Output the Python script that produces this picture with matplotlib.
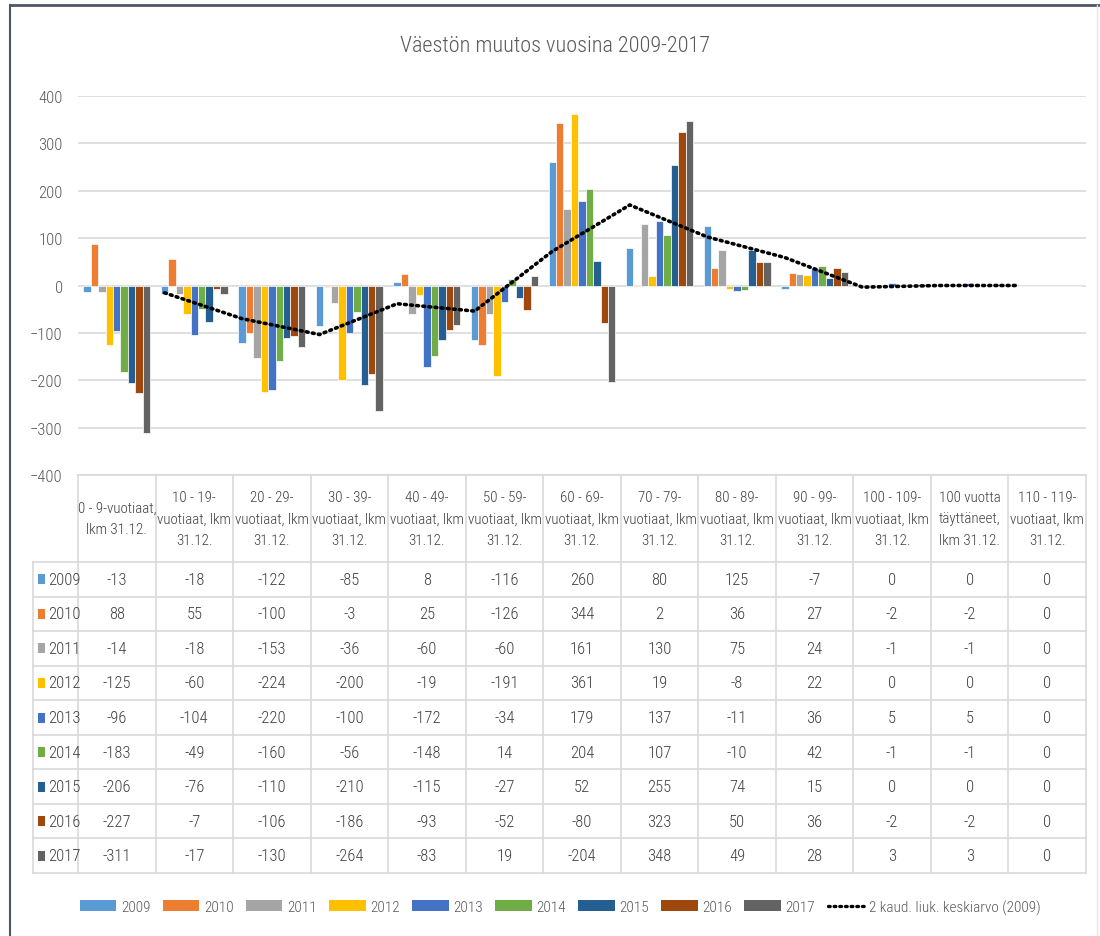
import numpy as np
import pandas as pd
import matplotlib
matplotlib.use("Agg")
import matplotlib.pyplot as plt
from matplotlib import font_manager
from matplotlib.transforms import blended_transform_factory
from matplotlib.patches import Rectangle
from matplotlib.lines import Line2D

# pick a narrow font if one is installed
names = {f.name for f in font_manager.fontManager.ttflist}
FONT = "Liberation Sans"
for cand in ["Liberation Sans Narrow", "Roboto Condensed", "DejaVu Sans Condensed",
             "Open Sans Condensed", "Noto Sans Condensed"]:
    if cand in names:
        FONT = cand
        break
plt.rcParams["font.family"] = [FONT, "DejaVu Sans"]
plt.rcParams["font.weight"] = "light"

# data
categories = [
    "0 - 9-vuotiaat,\nlkm 31.12.",
    "10 - 19-\nvuotiaat, lkm\n31.12.",
    "20 - 29-\nvuotiaat, lkm\n31.12.",
    "30 - 39-\nvuotiaat, lkm\n31.12.",
    "40 - 49-\nvuotiaat, lkm\n31.12.",
    "50 - 59-\nvuotiaat, lkm\n31.12.",
    "60 - 69-\nvuotiaat, lkm\n31.12.",
    "70 - 79-\nvuotiaat, lkm\n31.12.",
    "80 - 89-\nvuotiaat, lkm\n31.12.",
    "90 - 99-\nvuotiaat, lkm\n31.12.",
    "100 - 109-\nvuotiaat, lkm\n31.12.",
    "100 vuotta\ntäyttäneet,\nlkm 31.12.",
    "110 - 119-\nvuotiaat, lkm\n31.12.",
]
years = ["2009", "2010", "2011", "2012", "2013", "2014", "2015", "2016", "2017"]
v2009 = [-13, -18, -122, -85, 8, -116, 260, 80, 125, -7, 0, 0, 0]
v2010 = [88, 55, -100, -3, 25, -126, 344, 2, 36, 27, -2, -2, 0]
v2011 = [-14, -18, -153, -36, -60, -60, 161, 130, 75, 24, -1, -1, 0]
v2012 = [-125, -60, -224, -200, -19, -191, 361, 19, -8, 22, 0, 0, 0]
v2013 = [-96, -104, -220, -100, -172, -34, 179, 137, -11, 36, 5, 5, 0]
v2014 = [-183, -49, -160, -56, -148, 14, 204, 107, -10, 42, -1, -1, 0]
v2015 = [-206, -76, -110, -210, -115, -27, 52, 255, 74, 15, 0, 0, 0]
v2016 = [-227, -7, -106, -186, -93, -52, -80, 323, 50, 36, -2, -2, 0]
v2017 = [-311, -17, -130, -264, -83, 19, -204, 348, 49, 28, 3, 3, 0]
series = [v2009, v2010, v2011, v2012, v2013, v2014, v2015, v2016, v2017]
colors = ["#5B9BD5", "#ED7D31", "#A5A5A5", "#FFC000", "#4472C4",
          "#70AD47", "#255E91", "#9E480E", "#636363"]

W, H = 1100, 937
TXT = "#595959"
GRID = "#d9d9d9"

fig = plt.figure(figsize=(W / 100, H / 100), dpi=100)

def fy(py):
    return 1 - py / H

ax_left, ax_right, ax_top, ax_bot = 78, 1086, 97, 476
ax = fig.add_axes([ax_left / W, fy(ax_bot), (ax_right - ax_left) / W, (ax_bot - ax_top) / H])

x = np.arange(len(categories))
bw = 0.096
n = len(series)
offsets = (np.arange(n) - (n - 1) / 2) * bw
for i, (vals, c) in enumerate(zip(series, colors)):
    ax.bar(x + offsets[i], vals, bw, color=c, edgecolor="white", linewidth=0.5,
           label=years[i], zorder=3)

# 2-period moving average trendline of 2009 series
DOTS = (0, (0.5, 1.2))
ma = pd.Series(v2009).rolling(2).mean()
ax.plot(x[1:] + offsets[0], ma[1:], color="black", linewidth=2.6,
        linestyle=DOTS, dash_capstyle="round", zorder=4)

ax.set_xlim(-0.5, len(categories) - 0.5)
ax.set_ylim(-400, 400)
ax.set_yticks(range(-400, 401, 100))
ax.yaxis.grid(True, color=GRID, linewidth=1.2, zorder=0)
ax.set_axisbelow(True)
ax.set_xticks([])
for s in ax.spines.values():
    s.set_visible(False)
ax.tick_params(axis="y", length=0, pad=11, labelsize=12, labelcolor=TXT)

# title
fig.text(555 / W, fy(47), "Väestön muutos vuosina 2009-2017", ha="center", va="center",
         fontsize=16, color=TXT)

# data table under the plot
tr = blended_transform_factory(ax.transData, fig.transFigure)
head_top, head_bot, tab_bot = 476, 563, 874
row_h = (tab_bot - head_bot) / 9
lab_left = 33
TCOL = "#404040"

fig.add_artist(Line2D([ax_left / W, ax_right / W], [fy(head_top), fy(head_top)],
                      transform=fig.transFigure, color=GRID, linewidth=1.2))
for r in range(10):
    py = head_bot + r * row_h
    fig.add_artist(Line2D([lab_left / W, ax_right / W], [fy(py), fy(py)],
                          transform=fig.transFigure, color=GRID, linewidth=1.2))
for k in range(len(categories) + 1):
    fig.add_artist(Line2D([k - 0.5, k - 0.5], [fy(head_top), fy(tab_bot)], transform=tr,
                          color=GRID, linewidth=1.2))
fig.add_artist(Line2D([lab_left / W, lab_left / W], [fy(head_bot), fy(tab_bot)],
                      transform=fig.transFigure, color=GRID, linewidth=1.2))

# header texts
for k, cat in enumerate(categories):
    fig.text(k, fy((head_top + head_bot) / 2), cat, transform=tr, ha="center", va="center",
             fontsize=10.8, color=TCOL, linespacing=1.7)

# rows
for r, (yr, vals, c) in enumerate(zip(years, series, colors)):
    py = head_bot + (r + 0.5) * row_h
    fig.add_artist(Rectangle((38 / W, fy(py + 5)), 7 / W, 10 / H, transform=fig.transFigure,
                             facecolor=c, edgecolor="none"))
    fig.text(48 / W, fy(py), yr, ha="left", va="center", fontsize=12, color=TCOL)
    for k, v in enumerate(vals):
        fig.text(k, fy(py), str(v), transform=tr, ha="center", va="center",
                 fontsize=12, color=TCOL)

# legend
handles = [Rectangle((0, 0), 1, 1, facecolor=c, edgecolor="none") for c in colors]
handles.append(Line2D([], [], color="black", linewidth=2.4, linestyle=DOTS,
                      dash_capstyle="round"))
labels = years + ["2 kaud. liuk. keskiarvo (2009)"]
fig.legend(handles, labels, loc="center", bbox_to_anchor=(560 / W, fy(908)), ncol=10,
           frameon=False, fontsize=11, labelcolor=TXT, handlelength=2.4, handleheight=0.75,
           handletextpad=0.3, columnspacing=0.8)

# chart border
fig.add_artist(Line2D([10 / W, 1], [fy(6), fy(6)], transform=fig.transFigure,
                      color="#4d5660", linewidth=2))
fig.add_artist(Line2D([10 / W, 10 / W], [0, fy(6)], transform=fig.transFigure,
                      color="#4d5660", linewidth=1.5))
fig.add_artist(Line2D([1097 / W, 1097 / W], [0, fy(6)], transform=fig.transFigure,
                      color="#e6e6e6", linewidth=1))

fig.savefig("out.png", dpi=100)
